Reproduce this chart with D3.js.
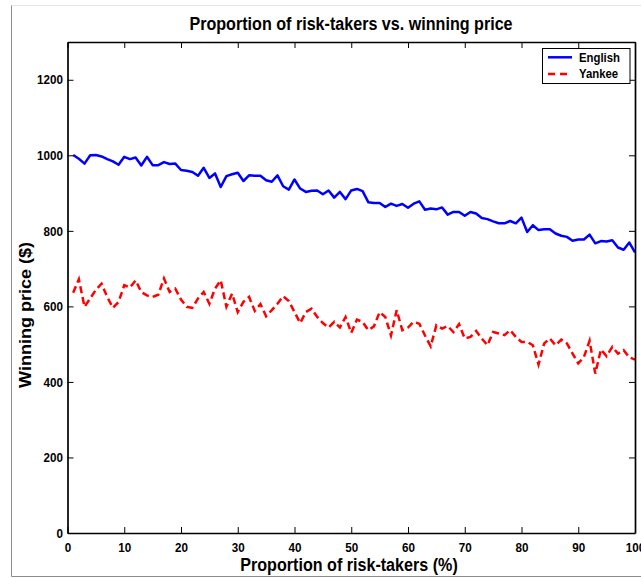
<!DOCTYPE html>
<html>
<head>
<meta charset="utf-8">
<script src="https://cdn.jsdelivr.net/npm/d3@7"></script>
<style>
  html, body { margin: 0; padding: 0; background: #fff; }
  svg { display: block; font-family: "Liberation Sans", Arial, Helvetica, sans-serif; font-weight: bold; }
</style>
</head>
<body>
<svg id="chart" width="641" height="578"></svg>
<script>
// Proportion of risk-takers (%) for each simulated auction setting
const proportions = d3.range(1, 101);

// Winning price ($), English auction
const englishPrice = [
  1001, 991, 978, 1000, 1001, 997, 990, 984, 975, 996,
  990, 994, 973, 996, 974, 974, 982, 977, 978, 961,
  959, 956, 946, 967, 940, 952, 916, 945, 950, 954,
  932, 947, 946, 946, 934, 930, 947, 918, 909, 936,
  912, 903, 906, 907, 897, 907, 888, 903, 884, 907,
  911, 905, 876, 874, 874, 863, 872, 866, 871, 861,
  872, 878, 856, 859, 857, 862, 843, 850, 850, 840,
  850, 846, 834, 831, 825, 820, 820, 826, 820, 835,
  797, 815, 802, 804, 804, 793, 787, 784, 774, 777,
  777, 790, 767, 773, 772, 775, 756, 750, 769, 743
];

// Winning price ($), Yankee auction
const yankeePrice = [
  636, 672, 599, 621, 644, 660, 625, 596, 612, 656,
  650, 669, 638, 629, 625, 631, 674, 638, 647, 618,
  599, 596, 621, 638, 607, 647, 669, 599, 634, 585,
  612, 625, 588, 606, 574, 590, 607, 627, 614, 585,
  556, 585, 594, 572, 556, 544, 559, 544, 572, 530,
  565, 559, 537, 547, 585, 572, 523, 590, 537, 544,
  559, 554, 523, 494, 550, 541, 548, 532, 553, 515,
  519, 535, 515, 497, 532, 528, 524, 537, 519, 506,
  506, 497, 446, 502, 515, 497, 512, 502, 475, 449,
  466, 509, 422, 486, 468, 493, 475, 484, 465, 459
];

const seriesNames = ["English", "Yankee"];
const xTicks = [0, 10, 20, 30, 40, 50, 60, 70, 80, 90, 100];
const yTicks = [0, 200, 400, 600, 800, 1000, 1200];
const titleText = "Proportion of risk-takers vs. winning price";
const xLabelText = "Proportion of risk-takers (%)";
const yLabelText = "Winning price ($)";

const svg = d3.select("#chart");
const plot = { left: 67.5, right: 635, top: 42, bottom: 533 };
const x = d3.scaleLinear().domain([0, 100]).range([plot.left, plot.right]);
const y = d3.scaleLinear().domain([0, 1300]).range([plot.bottom, plot.top]);

// Horizontal text is drawn slightly condensed
const squeeze = 0.895;
function narrow(sel) {
  sel.each(function () {
    const w = this.getComputedTextLength();
    this.setAttribute("textLength", (w * squeeze).toFixed(2));
    this.setAttribute("lengthAdjust", "spacingAndGlyphs");
  });
}

svg.append("rect").attr("width", 641).attr("height", 578).attr("fill", "#fff");

// Figure frame
svg.append("line").attr("x1", 11.5).attr("x2", 641).attr("y1", 5.5).attr("y2", 5.5)
  .attr("stroke", "#e4e4e4").attr("stroke-width", 1);
svg.append("line").attr("x1", 11.5).attr("x2", 11.5).attr("y1", 5.5).attr("y2", 576.5)
  .attr("stroke", "#8c8c8c").attr("stroke-width", 1);
svg.append("line").attr("x1", 11.5).attr("x2", 641).attr("y1", 576.5).attr("y2", 576.5)
  .attr("stroke", "#8c8c8c").attr("stroke-width", 1);

// Data lines
const line = d3.line().x((d, i) => x(proportions[i])).y(d => y(d));

svg.append("path").datum(englishPrice)
  .attr("fill", "none").attr("stroke", "#0000ff").attr("stroke-width", 2.5)
  .attr("stroke-linejoin", "round").attr("d", line);

svg.append("path").datum(yankeePrice)
  .attr("fill", "none").attr("stroke", "#ff0000").attr("stroke-width", 2.5)
  .attr("stroke-dasharray", "7,4").attr("d", line);

// Axes: ticks point inward on all four sides
function styleAxis(g) {
  g.select(".domain").attr("stroke", "#000").attr("stroke-width", 1.7);
  g.selectAll(".tick line").attr("stroke", "#000").attr("stroke-width", 1);
  g.attr("font-family", null).attr("font-size", null);
  g.selectAll(".tick text").attr("fill", "#000").style("font-size", "13px");
}

const gx = svg.append("g").attr("transform", `translate(0,${plot.bottom})`)
  .call(d3.axisBottom(x).tickValues(xTicks).tickFormat(d3.format("d"))
    .tickSizeInner(-6).tickSizeOuter(0).tickPadding(9.5));
styleAxis(gx);

const gxTop = svg.append("g").attr("transform", `translate(0,${plot.top})`)
  .call(d3.axisTop(x).tickValues(xTicks).tickFormat("")
    .tickSizeInner(-6).tickSizeOuter(0));
styleAxis(gxTop);

const gy = svg.append("g").attr("transform", `translate(${plot.left},0)`)
  .call(d3.axisLeft(y).tickValues(yTicks).tickFormat(d3.format("d"))
    .tickSizeInner(-6).tickSizeOuter(0).tickPadding(4.5));
styleAxis(gy);

const gyRight = svg.append("g").attr("transform", `translate(${plot.right},0)`)
  .call(d3.axisRight(y).tickValues(yTicks).tickFormat("")
    .tickSizeInner(-6).tickSizeOuter(0));
styleAxis(gyRight);

narrow(gx.selectAll(".tick text"));
narrow(gy.selectAll(".tick text"));

// Title and axis labels
svg.append("text").attr("x", 351).attr("y", 30).attr("text-anchor", "middle")
  .style("font-size", "18px").attr("fill", "#000").text(titleText).call(narrow);

svg.append("text").attr("x", 349).attr("y", 571).attr("text-anchor", "middle")
  .style("font-size", "18px").attr("fill", "#000").text(xLabelText).call(narrow);

svg.append("text")
  .attr("transform", `translate(31,315) scale(${squeeze},1) rotate(-90)`)
  .attr("text-anchor", "middle").style("font-size", "18px").attr("fill", "#000")
  .text(yLabelText);

// Legend
const legend = svg.append("g");
legend.append("rect").attr("x", 542.5).attr("y", 48.5).attr("width", 87.5).attr("height", 35)
  .attr("fill", "#fff").attr("stroke", "#000").attr("stroke-width", 1);
const legendRows = [
  { name: seriesNames[0], color: "#0000ff", dash: null, ly: 57.3, ty: 61.8 },
  { name: seriesNames[1], color: "#ff0000", dash: "7,5", ly: 74, ty: 78.4 }
];
legendRows.forEach(r => {
  legend.append("line").attr("x1", 548).attr("x2", 572).attr("y1", r.ly).attr("y2", r.ly)
    .attr("stroke", r.color).attr("stroke-width", 2.5).attr("stroke-dasharray", r.dash);
  legend.append("text").attr("x", 579).attr("y", r.ty).style("font-size", "12.7px")
    .attr("fill", "#000").text(r.name).call(narrow);
});
</script>
</body>
</html>
